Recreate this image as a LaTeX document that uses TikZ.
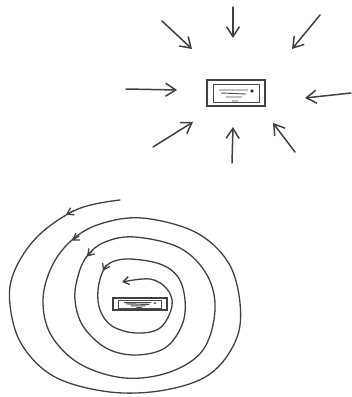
\documentclass[tikz,border=0pt]{standalone}
\usetikzlibrary{arrows.meta}

\tikzset{
  sketch/.style={draw=black!75,line width=1.3pt,line cap=round,line join=round},
  inarrow/.style={sketch,line width=1.5pt,-{Straight Barb[length=10pt,width=13pt]}},
  spiraltip/.style={sketch,-{Straight Barb[length=6pt,width=8pt]}},
  chipbox/.style={draw=black!75,line width=1.6pt,rectangle,inner sep=0pt},
}

\begin{document}
\begin{tikzpicture}[x=1pt,y=-1pt]
  \useasboundingbox (0,0) rectangle (352,397);

  % Chip drawing: name, position, width, height
  \newcommand{\drawchip}[4]{%
      \node[chipbox,minimum width=#3pt,minimum height=#4pt] (#1) at (#2) {};
      \begin{scope}[shift={(#1.center)},xscale=#3/58,yscale=#4/26]
          \draw[black!70,line width=0.7pt] (-23,-9) rectangle (23,9);
          \draw[black!70,line width=0.9pt]
              (-17,-3) -- (12,-3) (-15,0) -- (10,1) (-10,4) -- (6,4) (-4,8) -- (2,8);
          \fill[black!80] (16,-2) circle (1.8);
      \end{scope}
  }

  % -------- Top: everything pushing in --------
  \drawchip{topchip}{236,93}{58}{26}

  \foreach \sx/\sy/\ex/\ey in {162/21/192/49, 233/7/233/38, 320/15/292/49,
                               126/89/177/90, 351/93/305/98,
                               153/147/193/122, 232/163/233/127, 295/152/273/123} {
      \draw[inarrow] (\sx,\sy) -- (\ex,\ey);
  }

  % -------- Bottom: spiralling in --------
  \drawchip{lowchip}{140,304}{54}{12}

  \draw[sketch,-{Straight Barb[length=6pt,width=8pt]}] plot[smooth,tension=0.6] coordinates {
      (120,200) (78,209) (38,236) (14,272) (10,305) (22,345) (55,377) (110,392)
      (165,390) (210,374) (236,340) (240,303) (228,262) (195,232) (142,218)
      (100,224) (72,240) (52,266) (43,300) (51,335) (80,364) (125,378)
      (170,372) (203,350) (215,310) (207,275) (180,248) (135,237)
      (105,242) (87,256) (78,276) (75,300) (83,326) (106,348) (135,355)
      (165,348) (182,325) (185,300) (178,277) (160,264) (130,259)
      (112,262) (103,271) (98,290) (100,310) (112,326) (136,333)
      (160,328) (172,306) (167,289) (150,279) (122,282)};

  % Arrow marks along the spiral
  \foreach \sx/\sy/\ex/\ey in {74/210.5/66/214.5, 79/236/72/240.5,
                               92/251/87/256.5, 106/265/103/271} {
      \draw[spiraltip] (\sx,\sy) -- (\ex,\ey);
  }

\end{tikzpicture}
\end{document}
